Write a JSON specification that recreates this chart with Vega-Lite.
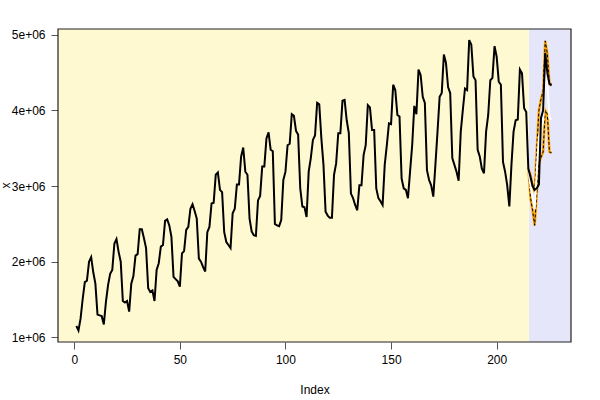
{
  "$schema": "https://vega.github.io/schema/vega-lite/v6.json",
  "autosize": {"type": "none"},
  "padding": {"left": 58, "top": 29, "right": 29, "bottom": 58},
  "width": 513,
  "height": 313,
  "background": "white",
  "config": {
    "view": {"stroke": null},
    "font": "Liberation Sans",
    "axis": {
      "labelFont": "Liberation Sans",
      "titleFont": "Liberation Sans",
      "labelFontSize": 12,
      "titleFontSize": 12,
      "titleFontWeight": "normal",
      "labelColor": "black",
      "titleColor": "black",
      "tickColor": "#555",
      "tickSize": 7,
      "domain": false,
      "grid": false
    }
  },
  "datasets": {
    "series": [
      {"i":1,"v":1150000},{"i":2,"v":1090000},{"i":3,"v":1250000},{"i":4,"v":1510000},{"i":5,"v":1730000},{"i":6,"v":1750000},{"i":7,"v":2000000},{"i":8,"v":2060000},{"i":9,"v":1860000},{"i":10,"v":1710000},{"i":11,"v":1300000},{"i":12,"v":1290000},
      {"i":13,"v":1280000},{"i":14,"v":1170000},{"i":15,"v":1470000},{"i":16,"v":1690000},{"i":17,"v":1840000},{"i":18,"v":1890000},{"i":19,"v":2240000},{"i":20,"v":2300000},{"i":21,"v":2130000},{"i":22,"v":2000000},{"i":23,"v":1480000},{"i":24,"v":1460000},
      {"i":25,"v":1480000},{"i":26,"v":1340000},{"i":27,"v":1710000},{"i":28,"v":1810000},{"i":29,"v":2080000},{"i":30,"v":2100000},{"i":31,"v":2430000},{"i":32,"v":2430000},{"i":33,"v":2310000},{"i":34,"v":2180000},{"i":35,"v":1650000},{"i":36,"v":1600000},
      {"i":37,"v":1620000},{"i":38,"v":1480000},{"i":39,"v":1890000},{"i":40,"v":1980000},{"i":41,"v":2200000},{"i":42,"v":2220000},{"i":43,"v":2540000},{"i":44,"v":2560000},{"i":45,"v":2480000},{"i":46,"v":2330000},{"i":47,"v":1800000},{"i":48,"v":1770000},
      {"i":49,"v":1740000},{"i":50,"v":1670000},{"i":51,"v":2110000},{"i":52,"v":2140000},{"i":53,"v":2420000},{"i":54,"v":2460000},{"i":55,"v":2700000},{"i":56,"v":2760000},{"i":57,"v":2670000},{"i":58,"v":2570000},{"i":59,"v":2040000},{"i":60,"v":2000000},
      {"i":61,"v":1930000},{"i":62,"v":1870000},{"i":63,"v":2390000},{"i":64,"v":2460000},{"i":65,"v":2770000},{"i":66,"v":2780000},{"i":67,"v":3150000},{"i":68,"v":3180000},{"i":69,"v":2950000},{"i":70,"v":2920000},{"i":71,"v":2390000},{"i":72,"v":2260000},
      {"i":73,"v":2220000},{"i":74,"v":2180000},{"i":75,"v":2640000},{"i":76,"v":2700000},{"i":77,"v":3020000},{"i":78,"v":3020000},{"i":79,"v":3390000},{"i":80,"v":3510000},{"i":81,"v":3190000},{"i":82,"v":3150000},{"i":83,"v":2570000},{"i":84,"v":2400000},
      {"i":85,"v":2350000},{"i":86,"v":2340000},{"i":87,"v":2810000},{"i":88,"v":2870000},{"i":89,"v":3260000},{"i":90,"v":3260000},{"i":91,"v":3630000},{"i":92,"v":3710000},{"i":93,"v":3480000},{"i":94,"v":3460000},{"i":95,"v":2500000},{"i":96,"v":2480000},
      {"i":97,"v":2470000},{"i":98,"v":2550000},{"i":99,"v":3080000},{"i":100,"v":3190000},{"i":101,"v":3540000},{"i":102,"v":3560000},{"i":103,"v":3950000},{"i":104,"v":3930000},{"i":105,"v":3730000},{"i":106,"v":3680000},{"i":107,"v":2970000},{"i":108,"v":2730000},
      {"i":109,"v":2720000},{"i":110,"v":2590000},{"i":111,"v":3190000},{"i":112,"v":3370000},{"i":113,"v":3610000},{"i":114,"v":3670000},{"i":115,"v":4100000},{"i":116,"v":4080000},{"i":117,"v":3630000},{"i":118,"v":3280000},{"i":119,"v":2660000},{"i":120,"v":2610000},
      {"i":121,"v":2580000},{"i":122,"v":2580000},{"i":123,"v":3150000},{"i":124,"v":3300000},{"i":125,"v":3700000},{"i":126,"v":3700000},{"i":127,"v":4130000},{"i":128,"v":4140000},{"i":129,"v":3870000},{"i":130,"v":3700000},{"i":131,"v":2900000},{"i":132,"v":2840000},
      {"i":133,"v":2750000},{"i":134,"v":2680000},{"i":135,"v":3010000},{"i":136,"v":3010000},{"i":137,"v":3410000},{"i":138,"v":3540000},{"i":139,"v":4070000},{"i":140,"v":4040000},{"i":141,"v":3740000},{"i":142,"v":3740000},{"i":143,"v":2970000},{"i":144,"v":2840000},
      {"i":145,"v":2800000},{"i":146,"v":2750000},{"i":147,"v":3280000},{"i":148,"v":3540000},{"i":149,"v":3830000},{"i":150,"v":3820000},{"i":151,"v":4340000},{"i":152,"v":4270000},{"i":153,"v":3940000},{"i":154,"v":3920000},{"i":155,"v":3100000},{"i":156,"v":2970000},
      {"i":157,"v":2950000},{"i":158,"v":2840000},{"i":159,"v":3190000},{"i":160,"v":3540000},{"i":161,"v":4060000},{"i":162,"v":3950000},{"i":163,"v":4540000},{"i":164,"v":4470000},{"i":165,"v":4180000},{"i":166,"v":4100000},{"i":167,"v":3210000},{"i":168,"v":3080000},
      {"i":169,"v":3010000},{"i":170,"v":2860000},{"i":171,"v":3280000},{"i":172,"v":3720000},{"i":173,"v":4180000},{"i":174,"v":4230000},{"i":175,"v":4740000},{"i":176,"v":4630000},{"i":177,"v":4310000},{"i":178,"v":4230000},{"i":179,"v":3370000},{"i":180,"v":3280000},
      {"i":181,"v":3190000},{"i":182,"v":3070000},{"i":183,"v":3720000},{"i":184,"v":4010000},{"i":185,"v":4290000},{"i":186,"v":4270000},{"i":187,"v":4930000},{"i":188,"v":4870000},{"i":189,"v":4450000},{"i":190,"v":4400000},{"i":191,"v":3480000},{"i":192,"v":3390000},
      {"i":193,"v":3230000},{"i":194,"v":3170000},{"i":195,"v":3720000},{"i":196,"v":3940000},{"i":197,"v":4400000},{"i":198,"v":4430000},{"i":199,"v":4850000},{"i":200,"v":4710000},{"i":201,"v":4380000},{"i":202,"v":4340000},{"i":203,"v":3320000},{"i":204,"v":3190000},
      {"i":205,"v":3010000},{"i":206,"v":2730000},{"i":207,"v":3280000},{"i":208,"v":3720000},{"i":209,"v":3870000},{"i":210,"v":3880000},{"i":211,"v":4540000},{"i":212,"v":4490000},{"i":213,"v":4030000},{"i":214,"v":3980000},{"i":215,"v":3230000},{"i":216,"v":3120000},
      {"i":217,"v":3000000},{"i":218,"v":2950000},{"i":219,"v":2970000},{"i":220,"v":3020000},{"i":221,"v":3900000},{"i":222,"v":4000000},{"i":223,"v":4760000},{"i":224,"v":4500000},{"i":225,"v":4350000},{"i":226,"v":4330000}
    ],
    "forecast": [
      {"i":215,"f":3230000,"lo":3230000,"hi":3230000},
      {"i":216,"f":3000000,"lo":2850000,"hi":3150000},
      {"i":217,"f":2850000,"lo":2680000,"hi":3020000},
      {"i":218,"f":2700000,"lo":2480000,"hi":2920000},
      {"i":219,"f":3200000,"lo":2900000,"hi":3500000},
      {"i":220,"f":3650000,"lo":3300000,"hi":4000000},
      {"i":221,"f":3750000,"lo":3380000,"hi":4150000},
      {"i":222,"f":3850000,"lo":3450000,"hi":4250000},
      {"i":223,"f":4450000,"lo":4000000,"hi":4920000},
      {"i":224,"f":4350000,"lo":3950000,"hi":4750000},
      {"i":225,"f":3900000,"lo":3450000,"hi":4350000},
      {"i":226,"f":3880000,"lo":3440000,"hi":4350000}
    ],
    "regions": [
      {"period": "estimation", "from": -7.7, "to": 215.3},
      {"period": "forecast", "from": 215.3, "to": 235.2}
    ],
    "frame": [
      {"x0": -7.7, "x1": 235.2, "y0": 938000, "y1": 5077000}
    ]
  },
  "encoding": {
    "x": {
      "field": "i",
      "type": "quantitative",
      "scale": {"domain": [-7.7, 235.2], "nice": false, "zero": false},
      "axis": {"values": [0, 50, 100, 150, 200], "title": "Index", "labelPadding": 5, "titlePadding": 19}
    }
  },
  "layer": [
    {
      "data": {"name": "regions"},
      "mark": {"type": "rect"},
      "encoding": {
        "x": {"field": "from", "type": "quantitative"},
        "x2": {"field": "to"},
        "color": {
          "field": "period",
          "type": "nominal",
          "scale": {"domain": ["estimation", "forecast"], "range": ["#FFF9D2", "#E6E6FA"]},
          "legend": null
        }
      }
    },
    {
      "data": {"name": "forecast"},
      "mark": {"type": "line", "color": "orange", "strokeWidth": 2.5},
      "encoding": {"y": {"field": "hi", "type": "quantitative"}}
    },
    {
      "data": {"name": "forecast"},
      "mark": {"type": "line", "color": "orange", "strokeWidth": 2.5},
      "encoding": {"y": {"field": "lo", "type": "quantitative"}}
    },
    {
      "data": {"name": "forecast"},
      "mark": {"type": "line", "color": "black", "strokeWidth": 1, "strokeDash": [3, 2]},
      "encoding": {"y": {"field": "hi", "type": "quantitative"}}
    },
    {
      "data": {"name": "forecast"},
      "mark": {"type": "line", "color": "black", "strokeWidth": 1, "strokeDash": [3, 2]},
      "encoding": {"y": {"field": "lo", "type": "quantitative"}}
    },
    {
      "data": {"name": "forecast"},
      "mark": {"type": "line", "color": "white", "strokeWidth": 2},
      "encoding": {"y": {"field": "f", "type": "quantitative"}}
    },
    {
      "data": {"name": "series"},
      "mark": {"type": "line", "color": "black", "strokeWidth": 2},
      "encoding": {
        "y": {
          "field": "v",
          "type": "quantitative",
          "scale": {"domain": [938000, 5077000], "nice": false, "zero": false},
          "axis": {
            "values": [1000000, 2000000, 3000000, 4000000, 5000000],
            "labelExpr": "format(datum.value / 1000000, 'd') + 'e+06'",
            "labelPadding": 6,
            "title": "x",
            "titleAngle": 270,
            "titleX": -53,
            "titleY": 156,
            "titleAlign": "center",
            "titleBaseline": "middle"
          }
        }
      }
    },
    {
      "data": {"name": "frame"},
      "mark": {"type": "rect", "fill": "transparent", "stroke": "#222", "strokeWidth": 1.2},
      "encoding": {
        "x": {"field": "x0", "type": "quantitative"},
        "x2": {"field": "x1"},
        "y": {"field": "y0", "type": "quantitative"},
        "y2": {"field": "y1"}
      }
    }
  ],
  "resolve": {"scale": {"y": "shared"}}
}
